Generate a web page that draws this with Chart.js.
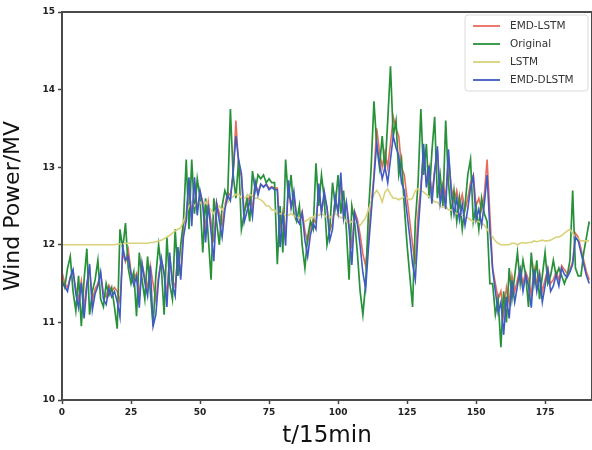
<!DOCTYPE html>
<html>
<head>
<meta charset="utf-8">
<script src="https://cdn.jsdelivr.net/npm/chart.js@4.4.1/dist/chart.umd.min.js"></script>
<style>
  html, body { margin: 0; padding: 0; background: #ffffff; }
  #wrap { width: 592px; height: 450px; }
</style>
</head>
<body>
<div id="wrap"><canvas id="windChart" width="592" height="450"></canvas></div>
<script>
// values, one per 15-minute step
const original = [
    11.55, 11.45, 11.7, 11.85, 11.4, 11.15, 11.6, 10.95, 11.55, 11.95,
    11.1, 11.4, 11.55, 11.8, 11.3, 11.2, 11.5, 11.35, 11.45, 11.2,
    10.92, 12.2, 11.95, 12.28, 11.7, 11.5, 11.65, 11.08, 11.9, 11.55,
    11.3, 11.85, 11.4, 10.95, 11.6, 12.0, 11.7, 11.1, 12.1, 11.5,
    11.3, 12.2, 11.6, 12.0, 12.3, 13.1, 12.2, 13.1, 12.4, 12.85,
    12.6, 11.9, 12.6, 12.1, 11.55, 12.6, 12.3, 12.0, 12.5, 12.7,
    12.6, 13.75, 12.9, 12.6, 13.1, 12.2, 12.4, 12.6, 12.3, 12.95,
    12.7, 12.9, 12.85, 12.9, 12.8, 12.85, 12.8, 12.8, 11.75, 12.5,
    11.9, 13.1, 12.6, 12.9, 12.4, 12.3, 12.5, 12.0, 11.7, 12.1,
    12.3, 12.2, 13.05, 12.5, 12.9, 12.6, 12.0, 12.2, 12.8, 12.5,
    12.9, 12.4, 12.7, 12.2, 11.55, 12.5, 12.3, 11.9, 11.4, 11.1,
    11.5, 12.4, 13.0, 13.85, 13.3, 13.0, 13.4, 12.95, 13.6, 14.3,
    13.4, 13.6, 12.9, 13.1, 12.5, 12.0, 11.6, 11.2, 12.3, 12.8,
    13.75, 12.9, 13.3, 12.6, 13.2, 13.65, 12.6, 12.9, 12.5, 13.6,
    12.8, 12.4, 12.7, 12.3, 12.6, 12.2, 12.5, 12.9, 13.1, 12.3,
    12.5, 12.2, 12.6, 12.4, 12.3, 11.5, 11.5, 11.1, 11.3, 10.68,
    11.4, 11.0, 11.7, 11.3, 11.6, 11.9, 11.5, 11.8, 11.6, 11.2,
    11.9, 11.5, 11.8, 11.3, 11.6, 11.9, 11.5, 11.6, 11.8, 11.6,
    11.7, 11.6, 11.5, 11.6, 11.8, 12.7, 11.7, 11.6, 11.6, 11.9,
    12.1, 12.3
];

const emdLstm = [
    11.65, 11.5, 11.45, 11.58, 11.65, 11.43, 11.3, 11.53, 11.2, 11.5,
    11.7, 11.28, 11.43, 11.5, 11.63, 11.38, 11.33, 11.48, 11.4, 11.45,
    11.4, 11.26, 11.9, 11.78, 11.94, 11.65, 11.55, 11.63, 11.34, 11.75,
    11.58, 11.45, 11.73, 11.5, 11.28, 11.6, 11.8, 11.65, 11.35, 11.85,
    11.55, 11.45, 11.9, 11.6, 12.25, 12.4, 12.8, 12.35, 12.8, 12.45,
    12.68, 12.55, 12.2, 12.55, 12.3, 12.03, 12.55, 12.4, 12.25, 12.5,
    12.68, 12.63, 12.9, 13.6, 13.0, 12.88, 12.43, 12.53, 12.63, 12.48,
    12.8, 12.68, 12.78, 12.75, 12.78, 12.73, 12.75, 12.73, 12.73, 12.2,
    12.43, 12.13, 12.73, 12.48, 12.63, 12.38, 12.33, 12.43, 12.18, 12.03,
    12.23, 12.33, 12.28, 12.7, 12.43, 12.63, 12.48, 12.18, 12.28, 12.58,
    12.43, 12.8, 12.38, 12.53, 12.28, 11.95, 12.43, 12.33, 12.13, 11.88,
    11.73, 12.1, 12.5, 12.9, 13.5, 13.2, 13.0, 13.2, 13.0, 13.3,
    13.65, 13.5, 13.4, 13.0, 12.9, 12.6, 12.3, 12.0, 11.75, 12.4,
    12.75, 13.2, 12.8, 13.0, 12.65, 12.95, 13.18, 12.65, 12.8, 12.6,
    13.15, 12.75, 12.55, 12.7, 12.5, 12.65, 12.45, 12.6, 12.8, 12.9,
    12.5, 12.6, 12.45, 12.65, 13.1, 12.4, 11.7, 11.5, 11.3, 11.4,
    11.1, 11.45, 11.25, 11.6, 11.4, 11.55, 11.7, 11.5, 11.65, 11.55,
    11.35, 11.7, 11.5, 11.65, 11.4, 11.55, 11.7, 11.5, 11.55, 11.65,
    11.55, 11.73, 11.68, 11.63, 11.68, 11.78, 12.15, 12.1, 11.95, 11.8,
    11.65, 11.55
];

const lstm = [
    12.0, 12.0, 12.0, 12.0, 12.0, 12.0, 12.0, 12.0, 12.0, 12.0,
    12.0, 12.0, 12.0, 12.0, 12.0, 12.0, 12.0, 12.0, 12.0, 12.0,
    12.01, 12.01, 12.01, 12.02, 12.02, 12.02, 12.02, 12.02, 12.02, 12.02,
    12.02, 12.02, 12.03, 12.03, 12.04, 12.05, 12.06, 12.08, 12.1, 12.12,
    12.15, 12.18, 12.2, 12.22, 12.3, 12.4, 12.5, 12.55, 12.5, 12.55,
    12.55, 12.5, 12.55, 12.5, 12.45, 12.4, 12.45, 12.5, 12.45, 12.5,
    12.55, 12.6, 12.62, 12.65, 12.65, 12.6, 12.6, 12.62, 12.65, 12.63,
    12.6, 12.6, 12.58, 12.55, 12.5, 12.5, 12.45, 12.45, 12.4, 12.4,
    12.4, 12.38, 12.38, 12.4, 12.38, 12.35, 12.35, 12.3, 12.3, 12.32,
    12.35, 12.35, 12.4, 12.38, 12.4, 12.38, 12.35, 12.35, 12.38, 12.4,
    12.38, 12.35, 12.35, 12.3, 12.28, 12.3, 12.3, 12.28, 12.25, 12.3,
    12.35, 12.45, 12.55, 12.65, 12.7, 12.65, 12.55, 12.68, 12.72, 12.65,
    12.6, 12.6, 12.58, 12.6, 12.62, 12.6, 12.58, 12.6, 12.7, 12.72,
    12.7, 12.68, 12.65, 12.62, 12.6, 12.55, 12.55, 12.5, 12.48, 12.5,
    12.45, 12.45, 12.42, 12.4, 12.4, 12.38, 12.35, 12.35, 12.32, 12.3,
    12.3, 12.3, 12.28, 12.25, 12.2, 12.15, 12.1, 12.05, 12.02, 12.0,
    12.0, 12.0, 12.0, 12.02, 12.02, 12.0, 12.02, 12.03, 12.02, 12.03,
    12.03, 12.05, 12.04, 12.05, 12.06, 12.05, 12.05, 12.06, 12.08, 12.1,
    12.1, 12.12, 12.15, 12.18, 12.2, 12.15, 12.1, 12.08, 12.05, 12.05,
    12.05, 12.05
];

const emdDlstm = [
    11.5, 11.47, 11.4, 11.58, 11.68, 11.37, 11.19, 11.51, 11.05, 11.47,
    11.75, 11.16, 11.37, 11.47, 11.65, 11.3, 11.23, 11.44, 11.33, 11.4,
    11.27, 11.07, 11.97, 11.8, 11.85, 11.62, 11.48, 11.59, 11.19, 11.76,
    11.52, 11.34, 11.73, 10.95, 11.1, 11.55, 11.83, 11.62, 11.2, 11.9,
    11.48, 11.34, 11.97, 11.55, 12.1, 12.31, 12.87, 12.24, 12.87, 12.38,
    12.7, 12.52, 12.03, 12.52, 12.17, 11.79, 12.52, 12.31, 12.1, 12.45,
    12.64, 12.57, 12.95, 13.4, 13.09, 12.92, 12.29, 12.43, 12.57, 12.36,
    12.81, 12.64, 12.78, 12.74, 12.78, 12.71, 12.74, 12.71, 12.71, 11.97,
    12.41, 11.99, 12.83, 12.48, 12.69, 12.34, 12.27, 12.41, 12.06, 11.85,
    12.13, 12.27, 12.2, 12.79, 12.41, 12.69, 12.48, 12.06, 12.2, 12.62,
    12.41, 12.93, 12.34, 12.55, 12.2, 11.74, 12.41, 12.27, 11.99, 11.64,
    11.43, 11.95, 12.4, 12.85, 13.3, 13.05, 12.85, 13.0, 12.8, 13.1,
    13.4, 13.25, 13.15, 12.8, 12.7, 12.4, 12.1, 11.75, 11.55, 12.18,
    12.67, 13.3, 12.74, 13.02, 12.53, 12.95, 13.27, 12.53, 12.74, 12.46,
    13.23, 12.67, 12.39, 12.6, 12.32, 12.53, 12.25, 12.46, 12.74, 12.88,
    12.32, 12.46, 12.25, 12.53, 12.9, 12.2, 11.68, 11.4, 11.12, 11.26,
    10.84, 11.33, 11.05, 11.54, 11.26, 11.47, 11.68, 11.4, 11.61, 11.47,
    11.19, 11.68, 11.4, 11.61, 11.26, 11.47, 11.68, 11.4, 11.47, 11.61,
    11.47, 11.7, 11.62, 11.58, 11.65, 11.75, 12.1, 12.05, 11.9, 11.75,
    11.6, 11.5
];

const xTicks = [0, 25, 50, 75, 100, 125, 150, 175];
const yTicks = [10, 11, 12, 13, 14, 15];

function toPoints(values) {
    return values.map((v, i) => ({ x: i, y: v }));
}

// frame round the plot plus the legend box in the upper right corner
const framePlugin = {
    id: "frame",
    afterDatasetsDraw(chart) {
        const ctx = chart.ctx;
        const a = chart.chartArea;
        ctx.save();
        ctx.strokeStyle = "#4a4a4a";
        ctx.lineWidth = 2;
        ctx.strokeRect(a.left, a.top, a.right - a.left, a.bottom - a.top);

        const bx = 465, by = 15, bw = 123, bh = 76;
        ctx.fillStyle = "rgba(255,255,255,0.85)";
        ctx.strokeStyle = "#dadada";
        ctx.lineWidth = 1;
        ctx.beginPath();
        ctx.roundRect(bx, by, bw, bh, 3);
        ctx.fill();
        ctx.stroke();

        ctx.font = "10.5px 'DejaVu Sans'";
        ctx.textBaseline = "middle";
        chart.data.datasets.forEach((ds, i) => {
            const yy = by + 11 + i * 18;
            ctx.strokeStyle = ds.borderColor;
            ctx.lineWidth = 1.8;
            ctx.beginPath();
            ctx.moveTo(bx + 8, yy);
            ctx.lineTo(bx + 35, yy);
            ctx.stroke();
            ctx.fillStyle = "#333";
            ctx.fillText(ds.label, bx + 45, yy);
        });
        ctx.restore();
    }
};

new Chart(document.getElementById("windChart"), {
    type: "line",
    data: {
        datasets: [
            { label: "EMD-LSTM", data: toPoints(emdLstm), borderColor: "#ea6a5e", borderWidth: 1.6, order: 4 },
            { label: "Original", data: toPoints(original), borderColor: "#27913a", borderWidth: 1.7, order: 3 },
            { label: "LSTM", data: toPoints(lstm), borderColor: "#d9d27a", borderWidth: 1.6, order: 2 },
            { label: "EMD-DLSTM", data: toPoints(emdDlstm), borderColor: "#3f5bc4", borderWidth: 1.6, order: 1 }
        ]
    },
    options: {
        responsive: false,
        animation: false,
        layout: { padding: { top: 12, right: 0, left: 0, bottom: 0 } },
        elements: { point: { radius: 0 }, line: { tension: 0 } },
        plugins: {
            legend: { display: false },
            tooltip: { enabled: false }
        },
        scales: {
            x: {
                type: "linear",
                min: 0,
                max: 192,
                afterBuildTicks: s => { s.ticks = xTicks.map(v => ({ value: v })); },
                afterFit: s => { s.height = 50; },
                border: { display: false },
                grid: { drawOnChartArea: false, drawTicks: true, tickLength: 4, tickWidth: 1.5, color: "#444" },
                ticks: { color: "#222", font: { family: "DejaVu Sans", size: 9, weight: "bold" }, padding: 3, maxRotation: 0 },
                title: { display: true, text: "t/15min", color: "#111", font: { family: "DejaVu Sans", size: 23 }, padding: { top: 0, bottom: 0 } }
            },
            y: {
                min: 10,
                max: 15,
                afterBuildTicks: s => { s.ticks = yTicks.map(v => ({ value: v })); },
                afterFit: s => { s.width = 62; },
                border: { display: false },
                grid: { drawOnChartArea: false, drawTicks: true, tickLength: 4, tickWidth: 1.5, color: "#444" },
                ticks: { color: "#222", font: { family: "DejaVu Sans", size: 9, weight: "bold" }, padding: 3 },
                title: { display: true, text: "Wind Power/MV", color: "#111", font: { family: "DejaVu Sans", size: 22 }, padding: { top: 0, bottom: 4 } }
            }
        }
    },
    plugins: [framePlugin]
});
</script>
</body>
</html>
